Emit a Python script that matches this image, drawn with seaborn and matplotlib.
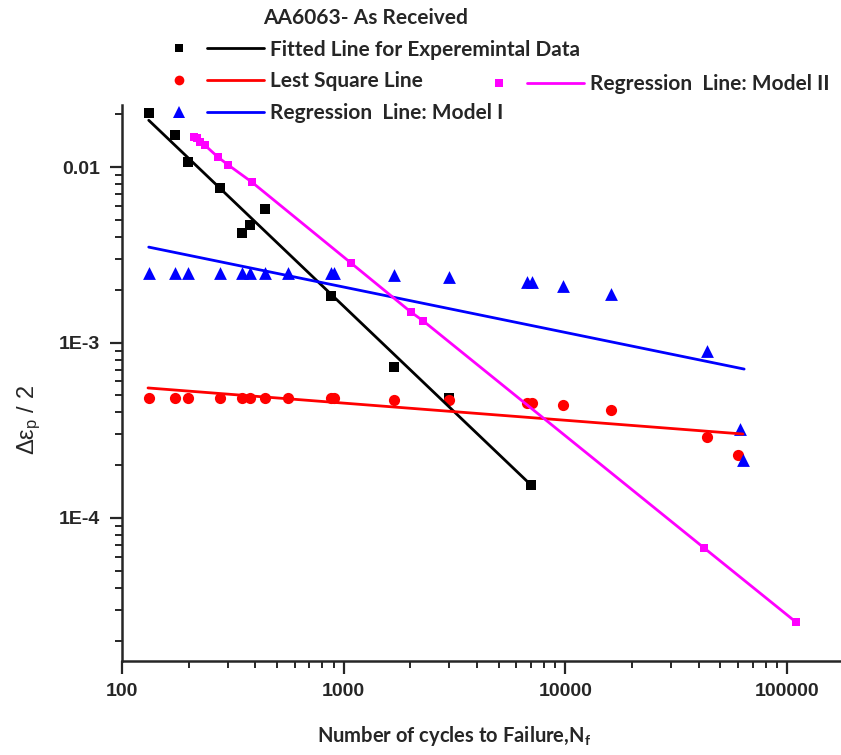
import matplotlib
matplotlib.use("Agg")
import matplotlib.pyplot as plt
import seaborn as sns
from matplotlib.lines import Line2D
from matplotlib.legend_handler import HandlerTuple
from matplotlib.font_manager import FontProperties
from matplotlib.ticker import LogLocator, NullFormatter, FixedLocator, FixedFormatter

# experimental data (black squares) and its fitted line
cycles_exp = [132, 173, 199, 277, 348, 378, 441, 877, 1687, 2985, 7000]
strain_exp = [0.0203, 0.0152, 0.0107, 0.00759, 0.00421, 0.00468, 0.00577,
              0.00184, 7.24e-4, 4.83e-4, 1.54e-4]
fit_exp_x = [132, 7000]
fit_exp_y = [0.0185, 1.54e-4]

# least square (red circles)
cycles_ls = [132, 173, 199, 277, 348, 378, 441, 561, 877, 904, 1687, 2985,
             6714, 7070, 9750, 16080, 43500, 60000]
strain_ls = [4.8e-4, 4.8e-4, 4.8e-4, 4.8e-4, 4.8e-4, 4.8e-4, 4.8e-4, 4.8e-4,
             4.8e-4, 4.8e-4, 4.7e-4, 4.7e-4, 4.5e-4, 4.5e-4, 4.4e-4, 4.1e-4,
             2.9e-4, 2.3e-4]
fit_ls_x = [131, 63200]
fit_ls_y = [5.51e-4, 3.01e-4]

# model I (blue triangles)
cycles_m1 = [132, 173, 199, 277, 348, 378, 441, 561, 877, 904, 1687, 2985,
             6714, 7070, 9750, 16080, 43500, 61000, 63200]
strain_m1 = [2.5e-3, 2.5e-3, 2.5e-3, 2.5e-3, 2.5e-3, 2.5e-3, 2.5e-3, 2.5e-3,
             2.5e-3, 2.5e-3, 2.43e-3, 2.36e-3, 2.21e-3, 2.21e-3, 2.10e-3,
             1.89e-3, 8.95e-4, 3.21e-4, 2.14e-4]
fit_m1_x = [132, 64000]
fit_m1_y = [3.5e-3, 7.06e-4]

# model II (magenta squares on line)
cycles_m2 = [211, 218, 225, 237, 271, 301, 385, 1079, 2013, 2280, 42200, 109600]
strain_m2 = [0.0148, 0.0146, 0.0139, 0.0133, 0.0114, 0.0103, 0.00822,
             0.00284, 0.00149, 0.00133, 6.75e-5, 2.55e-5]

sns.set_style("ticks")
plt.rcParams['font.family'] = ['Liberation Sans', 'DejaVu Sans']
plt.rcParams['mathtext.default'] = 'regular'

fig = plt.figure(figsize=(8.41, 7.55), dpi=100)
ax = fig.add_axes([122 / 841, 1 - 661 / 755, 1 - 122 / 841, (661 - 105) / 755])

MAG = '#ff00ff'
BLUE = '#0000ff'
RED = '#ff0000'

sns.lineplot(x=fit_exp_x, y=fit_exp_y, color='black', lw=2.0, ax=ax, legend=False)
sns.lineplot(x=fit_ls_x, y=fit_ls_y, color=RED, lw=2.0, ax=ax, legend=False)
sns.lineplot(x=fit_m1_x, y=fit_m1_y, color=BLUE, lw=2.0, ax=ax, legend=False)
sns.lineplot(x=cycles_m2, y=strain_m2, color=MAG, lw=2.0, marker='s',
             markersize=6, markeredgewidth=0, ax=ax, legend=False, sort=False)

sns.scatterplot(x=cycles_exp, y=strain_exp, color='black', marker='s', s=60,
                linewidth=0, ax=ax, legend=False)
sns.scatterplot(x=cycles_ls, y=strain_ls, color=RED, marker='o', s=65,
                linewidth=0, ax=ax, legend=False)
sns.scatterplot(x=cycles_m1, y=strain_m1, color=BLUE, marker='^', s=85,
                linewidth=0, ax=ax, legend=False)

ax.set_xscale('log')
ax.set_yscale('log')
ax.set_xlim(100, 175000)
ax.set_ylim(1.53e-5, 0.0226)
sns.despine(ax=ax)
for s in ['left', 'bottom']:
    ax.spines[s].set_linewidth(1.8)

ax.xaxis.set_major_locator(FixedLocator([100, 1000, 10000, 100000]))
ax.xaxis.set_major_formatter(FixedFormatter(['100', '1000', '10000', '100000']))
ax.yaxis.set_major_locator(FixedLocator([1e-4, 1e-3, 1e-2]))
ax.yaxis.set_major_formatter(FixedFormatter(['1E-4', '1E-3', '0.01']))
ax.xaxis.set_minor_locator(LogLocator(base=10, subs=range(2, 10), numticks=20))
ax.yaxis.set_minor_locator(LogLocator(base=10, subs=range(2, 10), numticks=20))
ax.xaxis.set_minor_formatter(NullFormatter())
ax.yaxis.set_minor_formatter(NullFormatter())
ax.tick_params(which='major', direction='out', length=9, width=1.6, pad=7)
ax.tick_params(which='minor', direction='out', length=5, width=1.4)
for lab in ax.get_xticklabels() + ax.get_yticklabels():
    lab.set_fontweight('bold')
    lab.set_fontsize(14)

ax.set_xlabel('Number of cycles to Failure,N$_f$', fontsize=14.5,
              fontweight='bold', family=['Lato', 'DejaVu Sans'])
ax.xaxis.set_label_coords(0.462, -0.113)
ax.set_ylabel('Δε$_p$ / 2', fontsize=17)
ax.yaxis.set_label_coords(-0.11, 0.433)

# legend in the Origin style: marker, then line
def pair(color, marker, ms=6):
    return (Line2D([], [], ls='none', marker=marker, color=color, markersize=ms,
                   markeredgewidth=0),
            Line2D([], [], color=color, lw=2.0))

leg_font = FontProperties(family=['Lato', 'DejaVu Sans'], weight='bold', size=15)
leg1 = fig.legend([pair('black', 's'), pair(RED, 'o', 7), pair(BLUE, '^', 8)],
                  ['Fitted Line for Experemintal Data', 'Lest Square Line',
                   'Regression  Line: Model I'],
                  handler_map={tuple: HandlerTuple(ndivide=None, pad=0)},
                  loc='upper left', bbox_to_anchor=(151 / 841, 1 - 8 / 755),
                  frameon=False, borderpad=0, borderaxespad=0,
                  handlelength=5.4, handletextpad=0.33, labelspacing=0.56,
                  title='AA6063- As Received', prop=leg_font,
                  title_fontproperties=leg_font)
leg2 = fig.legend([pair(MAG, 's')], ['Regression  Line: Model II'],
                  handler_map={tuple: HandlerTuple(ndivide=None, pad=0)},
                  loc='upper left', bbox_to_anchor=(471 / 841, 1 - 74 / 755),
                  frameon=False, borderpad=0, borderaxespad=0,
                  handlelength=5.4, handletextpad=0.33, prop=leg_font)

fig.savefig('out.png', dpi=100)
